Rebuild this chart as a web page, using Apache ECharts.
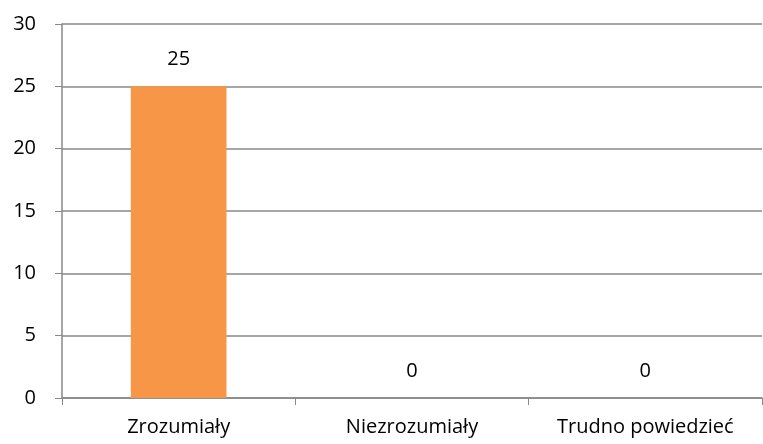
<!DOCTYPE html>
<html>
<head>
<meta charset="utf-8">
<script src="https://cdn.jsdelivr.net/npm/echarts@6/dist/echarts.min.js"></script>
<style>
  html, body { margin: 0; padding: 0; background: #fff; }
  #chart { width: 763px; height: 444px; }
</style>
</head>
<body>
<div id="chart"></div>
<script>
var categories = ['Zrozumiały', 'Niezrozumiały', 'Trudno powiedzieć'];
var values = [25, 0, 0];

var myChart = echarts.init(document.getElementById('chart'));

var option = {
    animation: false,
    textStyle: { fontFamily: 'Open Sans', color: '#000' },
    grid: { left: 62, right: 1, top: 24, bottom: 46 },
    xAxis: {
        type: 'category',
        data: categories,
        axisLine: { lineStyle: { color: '#888', width: 1.5 } },
        axisTick: { show: true, length: 7, alignWithLabel: false, lineStyle: { color: '#888' } },
        axisLabel: { color: '#000', fontSize: 20, margin: 19 }
    },
    yAxis: {
        type: 'value',
        min: 0,
        max: 30,
        interval: 5,
        axisLine: { show: true, lineStyle: { color: '#888', width: 1.5 } },
        axisTick: { show: true, length: 7, lineStyle: { color: '#888' } },
        axisLabel: { color: '#000', fontSize: 20, margin: 26 },
        splitLine: { lineStyle: { color: '#888', width: 1.5 } }
    },
    series: [{
        type: 'bar',
        data: values,
        barWidth: '41%',
        itemStyle: { color: '#F79646' },
        label: {
            show: true,
            position: 'top',
            distance: 17,
            color: '#000',
            fontSize: 20
        }
    }]
};

myChart.setOption(option);
</script>
</body>
</html>
